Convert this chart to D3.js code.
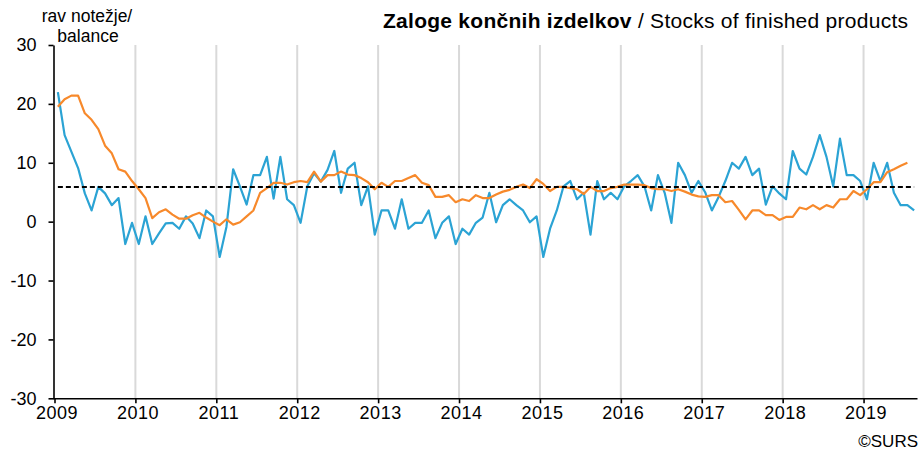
<!DOCTYPE html>
<meta charset="utf-8">
<style>
body { margin: 0; background: #fff; }
svg { font-family: "Liberation Sans", Arial, sans-serif; }
</style>
<svg></svg>
<script src="https://d3js.org/d3.v7.min.js"></script>
<script>
var width = 921,
    height = 455;

var years = [2009, 2010, 2011, 2012, 2013, 2014, 2015, 2016, 2017, 2018, 2019];
var yTicks = [-30, -20, -10, 0, 10, 20, 30];
var average = [5.9];

// monthly balance, Jan 2009 - Aug 2019
var balance = [
  22, 14.7, 11.9, 9.1, 4.8, 1.9, 5.9, 4.8, 2.8, 4, -3.8, -0.2,
  -3.8, 0.9, -3.8, -2, -0.3, -0.2, -1.2, 0.9, -0.3, -2.8, 1.9, 0.9,
  -6, -0.9, 8.9, 6, 2.9, 7.9, 7.9, 11, 3.9, 11, 3.8, 2.8,
  -0.2, 6, 8.2, 6.8, 8.8, 12, 4.9, 9, 10, 2.8, 6, -2.2,
  1.9, 1.9, -1.2, 3.8, -1.2, -0.2, -0.2, 1.9, -2.8, -0.2, 0.9, -3.8,
  -1.2, -2.2, -0.2, 0.7, 4.9, -0.1, 2.8, 3.8, 2.8, 1.9, -0.1, 0.9,
  -6, -1.2, 1.9, 6, 6.9, 3.8, 4.9, -2.2, 6.9, 3.8, 4.9, 3.8,
  6, 6.9, 7.9, 6, 1.9, 7.9, 4.9, -0.2, 10, 7.9, 4.9, 6.9,
  5, 1.9, 4.2, 6.9, 10, 9, 11, 7.9, 9, 2.9, 6, 4.8,
  3.8, 12, 9, 8, 11, 14.7, 11, 6, 14.1, 7.9, 7.9, 6.9,
  3.8, 10, 6.9, 10, 4.9, 2.8, 2.8, 1.9
];

// trend, Jan 2009 - Jul 2019
var trend = [
  19.5, 20.8, 21.4, 21.4, 18.4, 17.3, 15.7, 12.9, 11.6, 8.9, 8.5, 6.9,
  5.5, 4, 0.6, 1.6, 2.1, 1.2, 0.5, 0.5, 1.1, 1.5, 0.7, 0,
  -0.6, 0.4, -0.5, -0.1, 0.9, 1.9, 4.9, 5.7, 6.6, 6.6, 6.3, 6.7,
  6.9, 6.7, 8.5, 6.8, 7.9, 7.9, 8.5, 8, 7.9, 7.4, 6.7, 5.5,
  6.6, 5.9, 6.9, 6.9, 7.4, 7.9, 6.6, 6.2, 4.2, 4.2, 4.5, 3.3,
  3.8, 3.5, 4.5, 4, 4, 4.6, 5.1, 5.4, 5.9, 6.3, 5.7, 7.2,
  6.4, 5.2, 5.9, 5.9, 5.7, 5.5, 4.7, 5.9, 5.2, 5.2, 5.7, 5.9,
  6.3, 6.3, 6.3, 6.2, 5.7, 5.5, 5.5, 5.2, 5.5, 5.1, 4.6, 4.3,
  4.2, 4.5, 4.5, 3.3, 3.5, 2, 0.4, 1.9, 1.9, 1.1, 1.1, 0.3,
  0.8, 0.8, 2.4, 2.1, 2.8, 2.1, 2.8, 2.4, 3.8, 3.8, 5.2, 4.5,
  5.5, 6.7, 6.7, 8.4, 8.9, 9.5, 10
];

var svg = d3.select("svg")
    .attr("width", width)
    .attr("height", height);

var x = d3.scaleLinear()
    .domain([0, balance.length])
    .range([54.5, 917.5]);

var y = d3.scaleLinear()
    .domain([-30, 30])
    .range([398.3, 45]);

// vertical year lines
svg.append("g")
  .selectAll("line")
  .data(years.slice(1))
  .enter().append("line")
    .attr("x1", function(d) { return x((d - 2009) * 12); })
    .attr("x2", function(d) { return x((d - 2009) * 12); })
    .attr("y1", y(30))
    .attr("y2", y(-30))
    .attr("stroke", "#d9d9d9")
    .attr("stroke-width", 2);

var line = d3.line()
    .x(function(d, i) { return x(i + 0.5); })
    .y(function(d) { return y(d); });

svg.append("path")
    .datum(balance)
    .attr("fill", "none")
    .attr("stroke", "#2ba3d4")
    .attr("stroke-width", 2.2)
    .attr("stroke-linejoin", "round")
    .attr("d", line);

svg.append("path")
    .datum(trend)
    .attr("fill", "none")
    .attr("stroke", "#f7892b")
    .attr("stroke-width", 2.2)
    .attr("stroke-linejoin", "round")
    .attr("d", line);

svg.append("line")
    .attr("x1", x(0.5))
    .attr("x2", x(balance.length - 0.5))
    .attr("y1", y(average[0]))
    .attr("y2", y(average[0]))
    .attr("stroke", "#000")
    .attr("stroke-width", 2)
    .attr("stroke-dasharray", "5,3");

var yAxis = svg.append("g")
    .attr("transform", "translate(53.5,0)")
    .call(d3.axisLeft(y)
      .tickValues(yTicks)
      .tickSize(5)
      .tickSizeOuter(0)
      .tickPadding(12)
      .tickFormat(function(d) { return String(d); }));

var xAxis = svg.append("g")
    .attr("transform", "translate(0," + y(-30) + ")")
    .call(d3.axisBottom(x)
      .tickValues(years.map(function(d) { return (d - 2009) * 12; }))
      .tickSize(5)
      .tickSizeOuter(0)
      .tickPadding(3)
      .tickFormat(function(d) { return String(2009 + d / 12); }));

xAxis.select(".domain").attr("d", "M53," + 0.5 + "H" + x(balance.length));

svg.selectAll(".domain, .tick line")
    .attr("stroke", "#000")
    .attr("stroke-width", 1.6);

svg.selectAll(".tick text")
    .attr("fill", "#000")
    .style("font-size", "18px")
    .style("font-family", "'Liberation Sans', Arial, sans-serif");

xAxis.selectAll(".tick text")
    .attr("dx", 2)
    .style("letter-spacing", "0.5px");

svg.append("text")
    .attr("x", 87)
    .attr("y", 21.5)
    .attr("text-anchor", "middle")
    .style("font-size", "17.5px")
    .text("rav notežje/");

svg.append("text")
    .attr("x", 88)
    .attr("y", 41.5)
    .attr("text-anchor", "middle")
    .style("font-size", "17.5px")
    .text("balance");

var title = svg.append("text")
    .attr("x", 383)
    .attr("y", 28)
    .attr("textLength", 525)
    .attr("lengthAdjust", "spacing")
    .style("font-size", "21px");

title.append("tspan")
    .style("font-weight", "bold")
    .text("Zaloge končnih izdelkov");

title.append("tspan")
    .text(" / Stocks of finished products");

svg.append("text")
    .attr("x", 918)
    .attr("y", 447)
    .attr("text-anchor", "end")
    .style("font-size", "17px")
    .text("©SURS");
</script>
